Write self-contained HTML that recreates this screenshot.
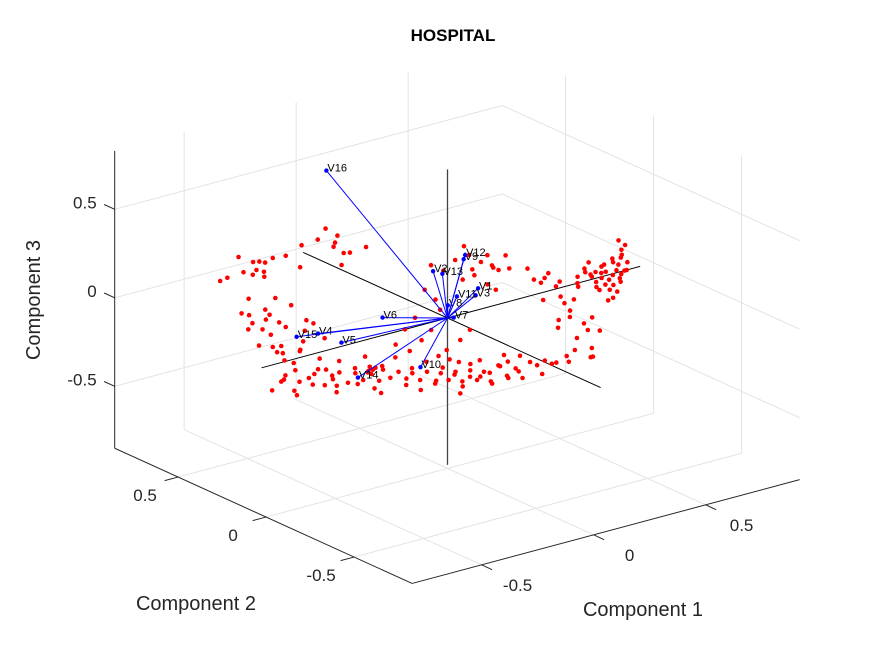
<!DOCTYPE html>
<html><head><meta charset="utf-8"><style>
html,body{margin:0;padding:0;background:#fff;}
svg{display:block;font-family:"Liberation Sans",Arial,sans-serif;}
</style></head><body>
<svg id="chart" width="875" height="656" viewBox="0 0 875 656" xmlns="http://www.w3.org/2000/svg">
<rect x="0" y="0" width="875" height="656" fill="#ffffff"/>
<text x="453" y="41" text-anchor="middle" font-size="17" font-weight="bold" fill="#000">HOSPITAL</text>
<g id="grid"></g>
<g id="axes"></g>
<g id="biaxes"></g>
<g id="scores"></g>
<g id="vectors"></g>
<text x="40" y="300" text-anchor="middle" font-size="20" fill="#262626" transform="rotate(-90 40 300)">Component 3</text>
<text x="196" y="610" text-anchor="middle" font-size="20" fill="#262626">Component 2</text>
<text x="643" y="616" text-anchor="middle" font-size="20" fill="#262626">Component 1</text>
</svg>
<script>
// axis limits and ticks
const xLim = [-0.81, 0.92];
const yLim = [-0.83, 0.86];
const zLim = [-0.85, 0.83];
const xTicks = [-0.5, 0, 0.5];
const yTicks = [-0.5, 0, 0.5];
const zTicks = [-0.5, 0, 0.5];
const tickLabels = ["-0.5", "0", "0.5"];
// loading vectors
const varNames = ["V1","V2","V3","V4","V5","V6","V7","V8","V9","V10","V11","V12","V13","V14","V15","V16"];
const varC1 = [0.16, 0.03, 0.11, -0.46, -0.45, -0.18, 0.02, -0.03, 0.19, -0.38, 0.05, 0.22, 0.04, -0.62, -0.54, -0.14];
const varC2 = [0.03, 0.12, -0.02, 0.15, 0.03, 0.14, -0.01, -0.04, 0.15, -0.33, 0.01, 0.18, 0.08, -0.28, 0.17, 0.51];
const varC3 = [0.10, 0.20, 0.10, 0, 0, 0, 0, 0.10, 0.20, 0, 0.10, 0.20, 0.20, 0, 0, 0.65];
// observation scores
const scoreC1 = [-0.41,-0.37,-0.21,-0.20,-0.18,-0.17,-0.12,-0.24,-0.26,-0.29,-0.28,-0.07,-0.10,-0.23,
0.04,0.21,0.20,0.12,0.15,0.11,0.13,0.21,0.03,0.12,
-0.54,-0.46,-0.52,-0.36,-0.36,-0.50,-0.51,-0.60,-0.41,-0.41,-0.67,-0.69,-0.68,-0.71,-0.59,-0.58,
-0.94,-0.81,-0.75,-0.81,-0.76,-0.68,-0.76,-0.68,-0.64,-0.68,-0.57,-0.62,-0.56,-0.64,-0.48,-0.53,-0.47,-0.53,-0.41,-0.46,-0.39,-0.44,-0.32,-0.38,-0.33,-0.38,-0.26,-0.30,-0.23,-0.28,-0.15,-0.19,-0.12,-0.16,-0.04,-0.04,0.01,
-0.72,-0.61,-0.61,-0.57,-0.47,-0.39,-0.31,-0.26,-0.24,-0.17,-0.07,-0.03,-0.90,-0.77,-0.65,-0.52,-0.43,-0.64,
-0.52,-0.53,-0.56,-0.51,
0.28,0.11,0.08,0.03,-0.10,-0.01,-0.19,-0.31,-0.21,-0.20,-0.12,-0.09,0.49,0.45,0.44,0.50,0.45,0.34,0.44,0.32,0.31,0.55,0.48,0.38,0.28,
0.48,0.48,0.56,0.50,0.45,0.42,0.39,0.30,0.25,0.35,0.47,0.35,0.32,0.41,0.16,0.22,0.17,0.67,0.66,0.71,0.56,
0.65,0.69,0.73,0.77,0.81,0.86,0.91,0.95,0.63,0.67,0.73,0.73,0.81,0.68,0.64,0.80,0.60,0.59,0.56,0.64,0.67,0.96,0.85,0.77,
0.54,0.38,0.35,0.24,
-0.86,-0.79,-0.72,-0.70,-0.66,-0.60,-0.58,-0.55,-0.50,-0.49,-0.44,-0.42,-0.36,-0.35,-0.30,-0.27,-0.22,-0.20,-0.13,-0.10,-0.08,0.03,-0.88,-0.84,-0.73,-0.66,
-0.33,-0.25,-0.31,-0.22,-0.15,-0.27,0.07,0.10,0.16,0.01,
-0.48,-0.55,-0.63,-0.44,-0.48,-0.55,-0.62,-0.70,-0.47,
0.70,0.75,0.79,0.83,0.71,0.76,0.62,0.88,0.69,0.74,0.58,0.61,0.52,0.44,0.53,0.28,0.37];
const scoreC2 = [0.77,0.78,0.92,0.85,0.84,0.82,0.84,0.78,0.71,0.79,0.75,0.83,0.71,0.75,
0.88,0.96,0.88,0.80,0.83,0.73,0.72,0.73,0.64,0.89,
0.44,0.45,0.37,0.52,0.43,0.32,0.27,0.24,0.28,0.24,0.14,0.09,0.07,-0.03,0.30,0.37,
-0.20,-0.11,-0.09,-0.19,-0.18,-0.13,-0.27,-0.21,-0.20,-0.30,-0.20,-0.31,-0.28,-0.40,-0.24,-0.35,-0.32,-0.44,-0.32,-0.43,-0.38,-0.49,-0.38,-0.49,-0.46,-0.57,-0.46,-0.55,-0.50,-0.61,-0.49,-0.58,-0.54,-0.63,-0.52,-0.56,-0.54,
0.01,0.06,-0.05,-0.11,-0.13,-0.20,-0.18,-0.28,-0.37,-0.40,-0.41,-0.45,-0.29,-0.35,-0.45,-0.51,-0.62,0.13,
-0.22,-0.25,-0.26,-0.24,
0.45,0.27,0.17,0.08,-0.20,-0.14,0.00,-0.10,-0.12,-0.25,-0.06,0.07,0.53,0.45,0.37,0.41,0.32,0.28,0.27,0.18,0.12,0.37,0.26,0.44,0.27,
0.12,0.08,0.14,0.02,-0.07,-0.13,-0.20,-0.25,-0.31,-0.25,-0.12,-0.33,-0.39,-0.30,-0.52,-0.54,-0.61,0.07,0.02,0.03,-0.03,
-0.07,-0.04,-0.01,0.02,0.06,0.11,0.17,0.20,-0.12,-0.09,-0.05,0.03,0.09,-0.01,-0.15,0.00,-0.10,-0.19,-0.20,-0.03,0.04,0.25,0.06,0.09,
0.05,-0.06,-0.42,-0.43,
-0.15,-0.24,-0.16,-0.24,-0.33,-0.24,-0.35,-0.25,-0.27,-0.39,-0.36,-0.47,-0.42,-0.53,-0.51,-0.59,-0.52,-0.60,-0.57,-0.47,-0.64,-0.58,-0.25,-0.14,-0.30,-0.15,
-0.30,-0.33,-0.44,-0.41,-0.48,-0.53,-0.60,-0.55,-0.61,-0.58,
0.40,0.47,0.33,0.57,0.20,0.12,0.05,0.18,0.10,
0.05,0.08,0.00,0.12,-0.08,-0.02,0.05,0.13,0.10,0.14,0.00,-0.07,0.11,0.30,0.22,0.38,0.33];
const scoreC3 = [0,0,0,0,0,0,0,0,0,0,0,0,0,0,
0,0,0,0,0,0,0,0,0,0,
0,0,0,0,0,0,0,0,0,0,0,0,0,0,0,0,
0,0,0,0,0,0,0,0,0,0,0,0,0,0,0,0,0,0,0,0,0,0,0,0,0,0,0,0,0,0,0,0,0,0,0,0,0,
0,0,0,0,0,0,0,0,0,0,0,0,0,0,0,0,0,0,
0,0,0,0,
0,0,0,0,0,0,0,0,0,0,0,0,0,0,0,0,0,0,0,0,0,0,0,0,0,
0,0,0,0,0,0,0,0,0,0,0,0,0,0,0,0,0,0,0,0,0,
0,0,0,0,0,0,0,0,0,0,0,0,0,0,0,0,0,0,0,0,0,0,0,0,
0,0,0,0,
0,0,0,0,0,0,0,0,0,0,0,0,0,0,0,0,0,0,0,0,0,0,0,0,0,0,
0,0,0,0,0,0,0,0,0,0,
0,0,0,0,0,0,0,0,0,
0,0,0,0,0,0,0,0,0,0,0,0,0,0,0,0,0];

const OX = 447.5, OY = 318;
function P(x, y, z) {
  return [OX + 224 * x - 176 * y, OY - 60 * x - 80 * y - 177 * z];
}
const NS = "http://www.w3.org/2000/svg";
function mk(tag, parent, attrs) {
  const e = document.createElementNS(NS, tag);
  for (const k in attrs) e.setAttribute(k, attrs[k]);
  parent.appendChild(e);
  return e;
}
function line(parent, a, b, stroke, w) {
  return mk("line", parent, {x1: a[0], y1: a[1], x2: b[0], y2: b[1], stroke: stroke, "stroke-width": w});
}
const grid = document.getElementById("grid");
const gc = "#e3e3e3";
xTicks.forEach(t => {
  let l = line(grid, P(t, yLim[0], zLim[0]), P(t, yLim[1], zLim[0]), gc, 1);
  
  
  l = line(grid, P(t, yLim[1], zLim[0]), P(t, yLim[1], zLim[1]), gc, 1);
  
  
});
yTicks.forEach(t => {
  let l = line(grid, P(xLim[0], t, zLim[0]), P(xLim[1], t, zLim[0]), gc, 1);
  
  
  l = line(grid, P(xLim[1], t, zLim[0]), P(xLim[1], t, zLim[1]), gc, 1);
  
  
});
zTicks.forEach(t => {
  let l = line(grid, P(xLim[0], yLim[1], t), P(xLim[1], yLim[1], t), gc, 1);
  
  
  l = line(grid, P(xLim[1], yLim[0], t), P(xLim[1], yLim[1], t), gc, 1);
  
  
});
const axes = document.getElementById("axes");
const ac = "#262626";
let a1 = line(axes, P(xLim[0], yLim[1], zLim[0]), P(xLim[0], yLim[1], zLim[1]), ac, 1);


let a2 = line(axes, P(xLim[0], yLim[0], zLim[0]), P(xLim[0], yLim[1], zLim[0]), ac, 1);


let a3 = line(axes, P(xLim[0], yLim[0], zLim[0]), P(xLim[1], yLim[0], zLim[0]), ac, 1);


const TL = 0.06;
function label(parent, p, txt, anchor, name) {
  const t = mk("text", parent, {x: p[0], y: p[1], "text-anchor": anchor, "font-size": 17, fill: ac});
  t.textContent = txt;
  
  
}
zTicks.forEach((t, i) => {
  const p = P(xLim[0], yLim[1], t);
  const q = P(xLim[0], yLim[1] + TL, t);
  const tk = line(axes, p, q, ac, 1);
  
  
  label(axes, [p[0] - 18, p[1] - 1], tickLabels[i], "end", "z-tick-label");
});
yTicks.forEach((t, i) => {
  const p = P(xLim[0], t, zLim[0]);
  const q = P(xLim[0] - TL, t, zLim[0]);
  const tk = line(axes, p, q, ac, 1);
  
  
  label(axes, [p[0] - 33, p[1] + 24], tickLabels[i], "middle", "y-tick-label");
});
xTicks.forEach((t, i) => {
  const p = P(t, yLim[0], zLim[0]);
  const q = P(t, yLim[0] - TL, zLim[0]);
  const tk = line(axes, p, q, ac, 1);
  
  
  label(axes, [p[0] + 36, p[1] + 26], tickLabels[i], "middle", "x-tick-label");
});
const bi = document.getElementById("biaxes");
let b1 = line(bi, P(-0.83, 0, 0), P(0.86, 0, 0), "#000", 1);


let b2 = line(bi, P(0, -0.87, 0), P(0, 0.82, 0), "#000", 1);


let b3 = line(bi, P(0, 0, -0.83), P(0, 0, 0.84), "#444", 1.3);


const sg = document.getElementById("scores");
scoreC1.forEach((v, i) => {
  const p = P(v, scoreC2[i], scoreC3[i] || 0);
  const c = mk("circle", sg, {cx: p[0], cy: p[1], r: 2.3, fill: "#ff0000"});
  
  
});
const vg = document.getElementById("vectors");
const o = P(0, 0, 0);
varNames.forEach((n, i) => {
  const p = P(varC1[i], varC2[i], varC3[i]);
  const l = line(vg, o, p, "#0000ff", 1);
  
  
  const c = mk("circle", vg, {cx: p[0], cy: p[1], r: 2.2, fill: "#0000ff"});
  
  
  const t = mk("text", vg, {x: p[0] + 1, y: p[1] + 1, "font-size": 11, fill: "#000"});
  t.textContent = n;
  
  
});
</script>
</body></html>
